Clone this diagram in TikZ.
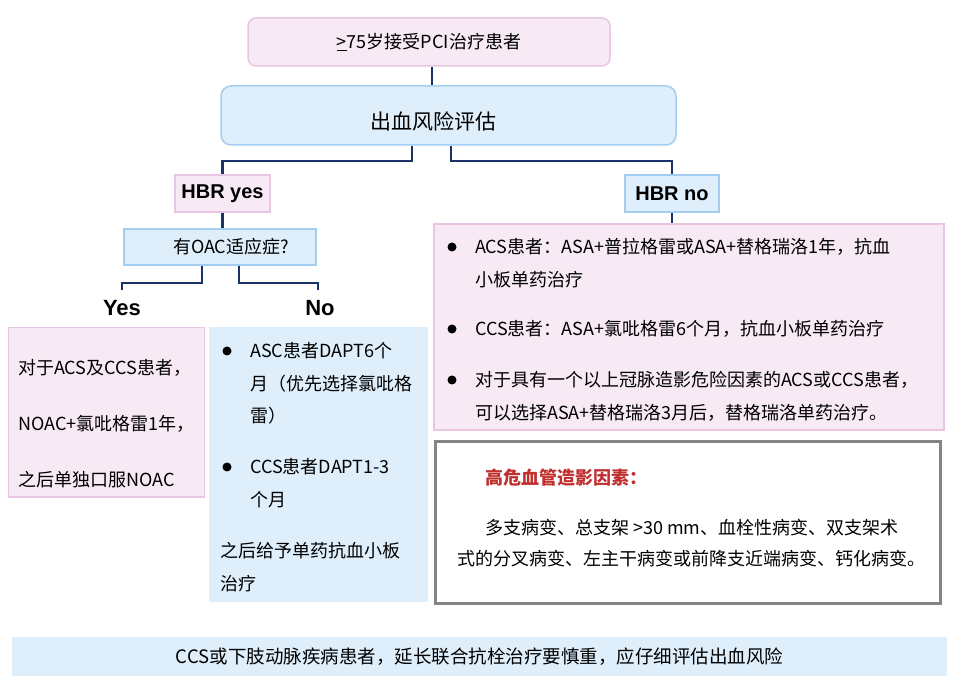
\documentclass[tikz,border=0pt]{standalone}
\usepackage{fontspec}
\setmainfont{Noto Sans CJK SC}
\setsansfont{Liberation Sans}
\usepackage{tikz}
\usetikzlibrary{positioning,arrows.meta}
\definecolor{pinkfill}{HTML}{F7EAF5}
\definecolor{pinkline}{HTML}{E8C6E3}
\definecolor{bluefill}{HTML}{DEEFFB}
\definecolor{blueline}{HTML}{A3CEF1}
\definecolor{navy}{HTML}{1A3366}
\definecolor{riskline}{HTML}{858585}
\definecolor{riskred}{HTML}{C0302E}

\begin{document}
\begin{tikzpicture}[x=1pt,y=-1pt,font=\fontsize{18}{22}\selectfont]
\tikzstyle{pinkbox}=[draw=pinkline,fill=pinkfill,line width=1.5pt]
\tikzstyle{bluebox}=[draw=blueline,fill=bluefill,line width=1.5pt]
\tikzstyle{conn}=[draw=navy,line width=2.4pt]
\tikzstyle{hbr}=[font=\sffamily\bfseries\fontsize{20}{24}\selectfont]
\tikzstyle{yn}=[font=\sffamily\bfseries\fontsize{22}{26}\selectfont]
\tikzstyle{txt}=[inner sep=0pt,align=left,anchor=base west]

\useasboundingbox[fill=white] (0,0) rectangle (967,684);

\node[pinkbox,rounded corners=8pt,minimum width=362,minimum height=48] (pci)
  at (429,42) {\underline{>}75岁接受PCI治疗患者};
\node[bluebox,rounded corners=10pt,minimum width=455,minimum height=59] (eval)
  at (448.5,115.5) {};
\node[font=\fontsize{21}{24}\selectfont] (evaltxt) at (433,121) {出血风险评估};

\node[pinkbox,hbr,minimum width=95,minimum height=37] (hy) at (222.5,193.5) {HBR yes};
\node[bluebox,hbr,minimum width=94,minimum height=37] (hn) at (672,193.5) {HBR no};
\node[bluebox,minimum width=192,minimum height=36] (oac) at (220,247) {};
\node (oactxt) at (231,247) {有OAC适应症?};
\node[yn] (yes) at (122,308) {Yes};
\node[yn] (no) at (320,308) {No};
\coordinate (ly) at (122,290);
\coordinate (ln) at (318,290);

\node[pinkbox,line width=1pt,minimum width=196,minimum height=169] (yesbox) at (106,412.5) {};
\node[fill=bluefill,minimum width=219,minimum height=275] (nobox) at (318.5,464.5) {};
\node[pinkbox,line width=2pt,minimum width=510,minimum height=206] (acsbox) at (689,327) {};
\node[draw=riskline,line width=3pt,fill=white,minimum width=505,minimum height=161] (riskbox)
  at (687.5,522.5) {};
\node[fill=bluefill,minimum width=935,minimum height=39,font=\fontsize{18.5}{22}\selectfont]
  (note) at (479.5,656.5)
  {CCS或下肢动脉疾病患者，延长联合抗栓治疗要慎重，应仔细评估出血风险};

\draw[conn] ([xshift=3pt]pci.south) -- ([xshift=3pt]pci.south |- eval.north);
\draw[conn] ([xshift=-36.5pt]eval.south) |- ([yshift=13pt]hy.north) -- (hy.north);
\draw[conn] ([xshift=2.5pt]eval.south) |- ([yshift=13pt]hn.north) -- (hn.north);
\draw[conn] (hy.south) -- (hy.south |- oac.north);
\draw[conn] ([xshift=-18pt]oac.south) -- ++(0,17) -| (ly);
\draw[conn] ([xshift=19pt]oac.south) -- ++(0,17) -| (ln);
\draw[conn] (hn.south) -- (hn.south |- acsbox.north);

\node[txt,font=\fontsize{18}{56}\selectfont] (yestxt) at (18,486)
  {对于ACS及CCS患者，\\NOAC+氯吡格雷1年，\\之后单独口服NOAC};

\fill (227,351) circle (4.5);
\fill (227,467) circle (4.5);
\node[txt,font=\fontsize{18}{32.5}\selectfont] (no1) at (250,423)
  {ASC患者DAPT6个\\月（优先选择氯吡格\\雷）};
\node[txt,font=\fontsize{18}{32.5}\selectfont] (no2) at (250,506.5)
  {CCS患者DAPT1-3\\个月};
\node[txt,font=\fontsize{18}{33}\selectfont] (no3) at (220,590)
  {之后给予单药抗血小板\\治疗};

\fill (452,247) circle (4.5);
\fill (452,329) circle (4.5);
\fill (452,380) circle (4.5);
\node[txt,font=\fontsize{18}{33}\selectfont] (acs1) at (475,287)
  {ACS患者：ASA+普拉格雷或ASA+替格瑞洛1年，抗血\\小板单药治疗};
\node[txt] (acs2) at (475,336) {CCS患者：ASA+氯吡格雷6个月，抗血小板单药治疗};
\node[txt,font=\fontsize{18}{33}\selectfont] (acs3) at (475,420)
  {对于具有一个以上冠脉造影危险因素的ACS或CCS患者，\\可以选择ASA+替格瑞洛3月后，替格瑞洛单药治疗。};

\node[txt,text=riskred,font=\bfseries\fontsize{18}{22}\selectfont] (risktitle) at (485,485)
  {高危血管造影因素：};
\node[txt,font=\fontsize{18}{31}\selectfont] (risktxt) at (457,565)
  {\hspace*{28pt}多支病变、总支架 >30 mm、血栓性病变、双支架术\\式的分叉病变、左主干病变或前降支近端病变、钙化病变。};
\end{tikzpicture}
\end{document}
